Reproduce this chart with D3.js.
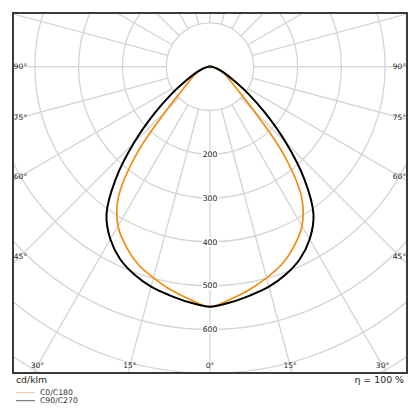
<!DOCTYPE html>
<html>
<head>
<meta charset="utf-8">
<script src="https://cdn.jsdelivr.net/npm/d3@7"></script>
<style>
  body { margin: 0; background: #fff; }
  text { font-family: "DejaVu Sans", sans-serif; }
</style>
</head>
<body>
<svg id="chart" width="420" height="420"></svg>
<script>
// gamma angles (deg from nadir) and intensities in cd/klm
var gammaDeg = [0, 5, 10, 15, 20, 25, 30, 35, 40, 45, 50, 55, 60, 65, 70, 75, 80, 85, 90];
var c0Values = [548, 533, 517, 499, 480, 453, 420, 365, 262, 140, 82, 58, 45, 34, 24, 16, 9, 4, 0];
var c90Values = [548, 540, 530, 520, 505, 485, 455, 412, 335, 245, 165, 105, 63, 40, 26, 16, 9, 4, 0];

var ringValues = [100, 200, 300, 400, 500, 600, 700, 800, 900];
var ringLabels = [200, 300, 400, 500, 600];
var angleTicks = [0, 15, 30, 45, 60, 75, 90];
var spokeAngles = d3.range(0, 360, 15);
var seriesNames = ["C0/C180", "C90/C270"];
var seriesColors = ["#f28c0f", "#000000"];

var frame = { x0: 13, y0: 13, x1: 407, y1: 373 };
var cx = 210, cy = 66.7;

var svg = d3.select('#chart');

var r = d3.scaleLinear()
    .domain([0, 100])
    .range([0, 43.8]);

svg.append('clipPath')
    .attr('id', 'clip')
    .append('rect')
    .attr('x', frame.x0)
    .attr('y', frame.y0)
    .attr('width', frame.x1 - frame.x0)
    .attr('height', frame.y1 - frame.y0);

var plot = svg.append('g')
    .attr('clip-path', 'url(#clip)');

var g = plot.append('g')
    .attr('transform', 'translate(' + cx + ',' + cy + ')');

// rings
g.selectAll('circle.ring')
    .data(ringValues)
    .enter()
    .append('circle')
    .attr('class', 'ring')
    .attr('r', function (d) { return r(d); })
    .attr('fill', 'none')
    .attr('stroke', '#d4d4d4')
    .attr('stroke-width', 1.3);

// spokes, starting at the 100 ring
g.selectAll('line.spoke')
    .data(spokeAngles)
    .enter()
    .append('line')
    .attr('class', 'spoke')
    .attr('x1', function (d) { return r(100) * Math.sin(d * Math.PI / 180); })
    .attr('y1', function (d) { return r(100) * Math.cos(d * Math.PI / 180); })
    .attr('x2', function (d) { return r(1000) * Math.sin(d * Math.PI / 180); })
    .attr('y2', function (d) { return r(1000) * Math.cos(d * Math.PI / 180); })
    .attr('stroke', '#d4d4d4')
    .attr('stroke-width', 1.3);

// ring value labels on the nadir axis
var rl = g.selectAll('g.rlabel')
    .data(ringLabels)
    .enter()
    .append('g')
    .attr('class', 'rlabel')
    .attr('transform', function (d) { return 'translate(0,' + r(d) + ')'; });

rl.append('rect')
    .attr('x', -8.5)
    .attr('y', -4.5)
    .attr('width', 17)
    .attr('height', 9)
    .attr('fill', 'white');

rl.append('text')
    .attr('text-anchor', 'middle')
    .attr('dy', '0.35em')
    .attr('font-size', 7.7)
    .attr('fill', '#222')
    .text(function (d) { return d; });

// curves
function fullCurve(values) {
    var pts = [];
    for (var i = gammaDeg.length - 1; i >= 0; i--) {
        pts.push([Math.PI + gammaDeg[i] * Math.PI / 180, r(values[i])]);
    }
    for (var j = 1; j < gammaDeg.length; j++) {
        pts.push([Math.PI - gammaDeg[j] * Math.PI / 180, r(values[j])]);
    }
    return pts;
}

var line = d3.lineRadial()
    .angle(function (d) { return d[0]; })
    .radius(function (d) { return d[1]; })
    .curve(d3.curveCatmullRom.alpha(0.5));

g.append('path')
    .attr('d', line(fullCurve(c0Values)))
    .attr('fill', 'none')
    .attr('stroke', seriesColors[0])
    .attr('stroke-width', 1.7);

g.append('path')
    .attr('d', line(fullCurve(c90Values)))
    .attr('fill', 'none')
    .attr('stroke', seriesColors[1])
    .attr('stroke-width', 2);

g.append('rect')
    .attr('x', -1.5)
    .attr('y', -1.5)
    .attr('width', 3)
    .attr('height', 3)
    .attr('fill', '#333');

// angle labels where spokes meet the frame
var inset = 7.5;
function anglePos(a, side) {
    var t = a * Math.PI / 180;
    var sx = Math.sin(t) * side, sy = Math.cos(t);
    var yb = frame.y1 - inset - cy;
    var xb = (side < 0 ? frame.x0 + inset : frame.x1 - inset) - cx;
    var k1 = sy > 1e-6 ? yb / sy : Infinity;
    var k2 = Math.abs(sx) > 1e-6 ? xb / sx : Infinity;
    var k = Math.min(k1, k2);
    return [cx + sx * k, cy + sy * k];
}

var angleLabelData = [];
angleTicks.forEach(function (a) {
    angleLabelData.push({ a: a, side: -1 });
    if (a > 0) angleLabelData.push({ a: a, side: 1 });
});

svg.selectAll('text.alabel')
    .data(angleLabelData)
    .enter()
    .append('text')
    .attr('class', 'alabel')
    .attr('x', function (d) { return anglePos(d.a, d.side)[0]; })
    .attr('y', function (d) { return anglePos(d.a, d.side)[1]; })
    .attr('text-anchor', 'middle')
    .attr('dy', '0.35em')
    .attr('font-size', 7.5)
    .attr('fill', '#222')
    .text(function (d) { return d.a + '°'; });

// frame
svg.append('rect')
    .attr('x', frame.x0)
    .attr('y', frame.y0)
    .attr('width', frame.x1 - frame.x0)
    .attr('height', frame.y1 - frame.y0)
    .attr('fill', 'none')
    .attr('stroke', '#3a3a3a')
    .attr('stroke-width', 2);

svg.append('text')
    .attr('x', 16)
    .attr('y', 382.5)
    .attr('font-size', 9.3)
    .attr('fill', '#222')
    .text('cd/klm');

svg.append('text')
    .attr('x', 404)
    .attr('y', 382.5)
    .attr('text-anchor', 'end')
    .attr('font-size', 9.4)
    .attr('fill', '#222')
    .text('η = 100 %');

// legend
var legend = svg.selectAll('g.legend')
    .data(seriesNames)
    .enter()
    .append('g')
    .attr('class', 'legend')
    .attr('transform', function (d, i) { return 'translate(16,' + (392.5 + i * 8.2) + ')'; });

legend.append('line')
    .attr('x1', 0)
    .attr('x2', 19)
    .attr('stroke', function (d, i) { return i === 0 ? '#f5c89a' : '#666'; })
    .attr('stroke-width', 1);

legend.append('text')
    .attr('x', 24)
    .attr('dy', '0.35em')
    .attr('font-size', 7.7)
    .attr('fill', '#333')
    .text(function (d) { return d; });
</script>
</body>
</html>
